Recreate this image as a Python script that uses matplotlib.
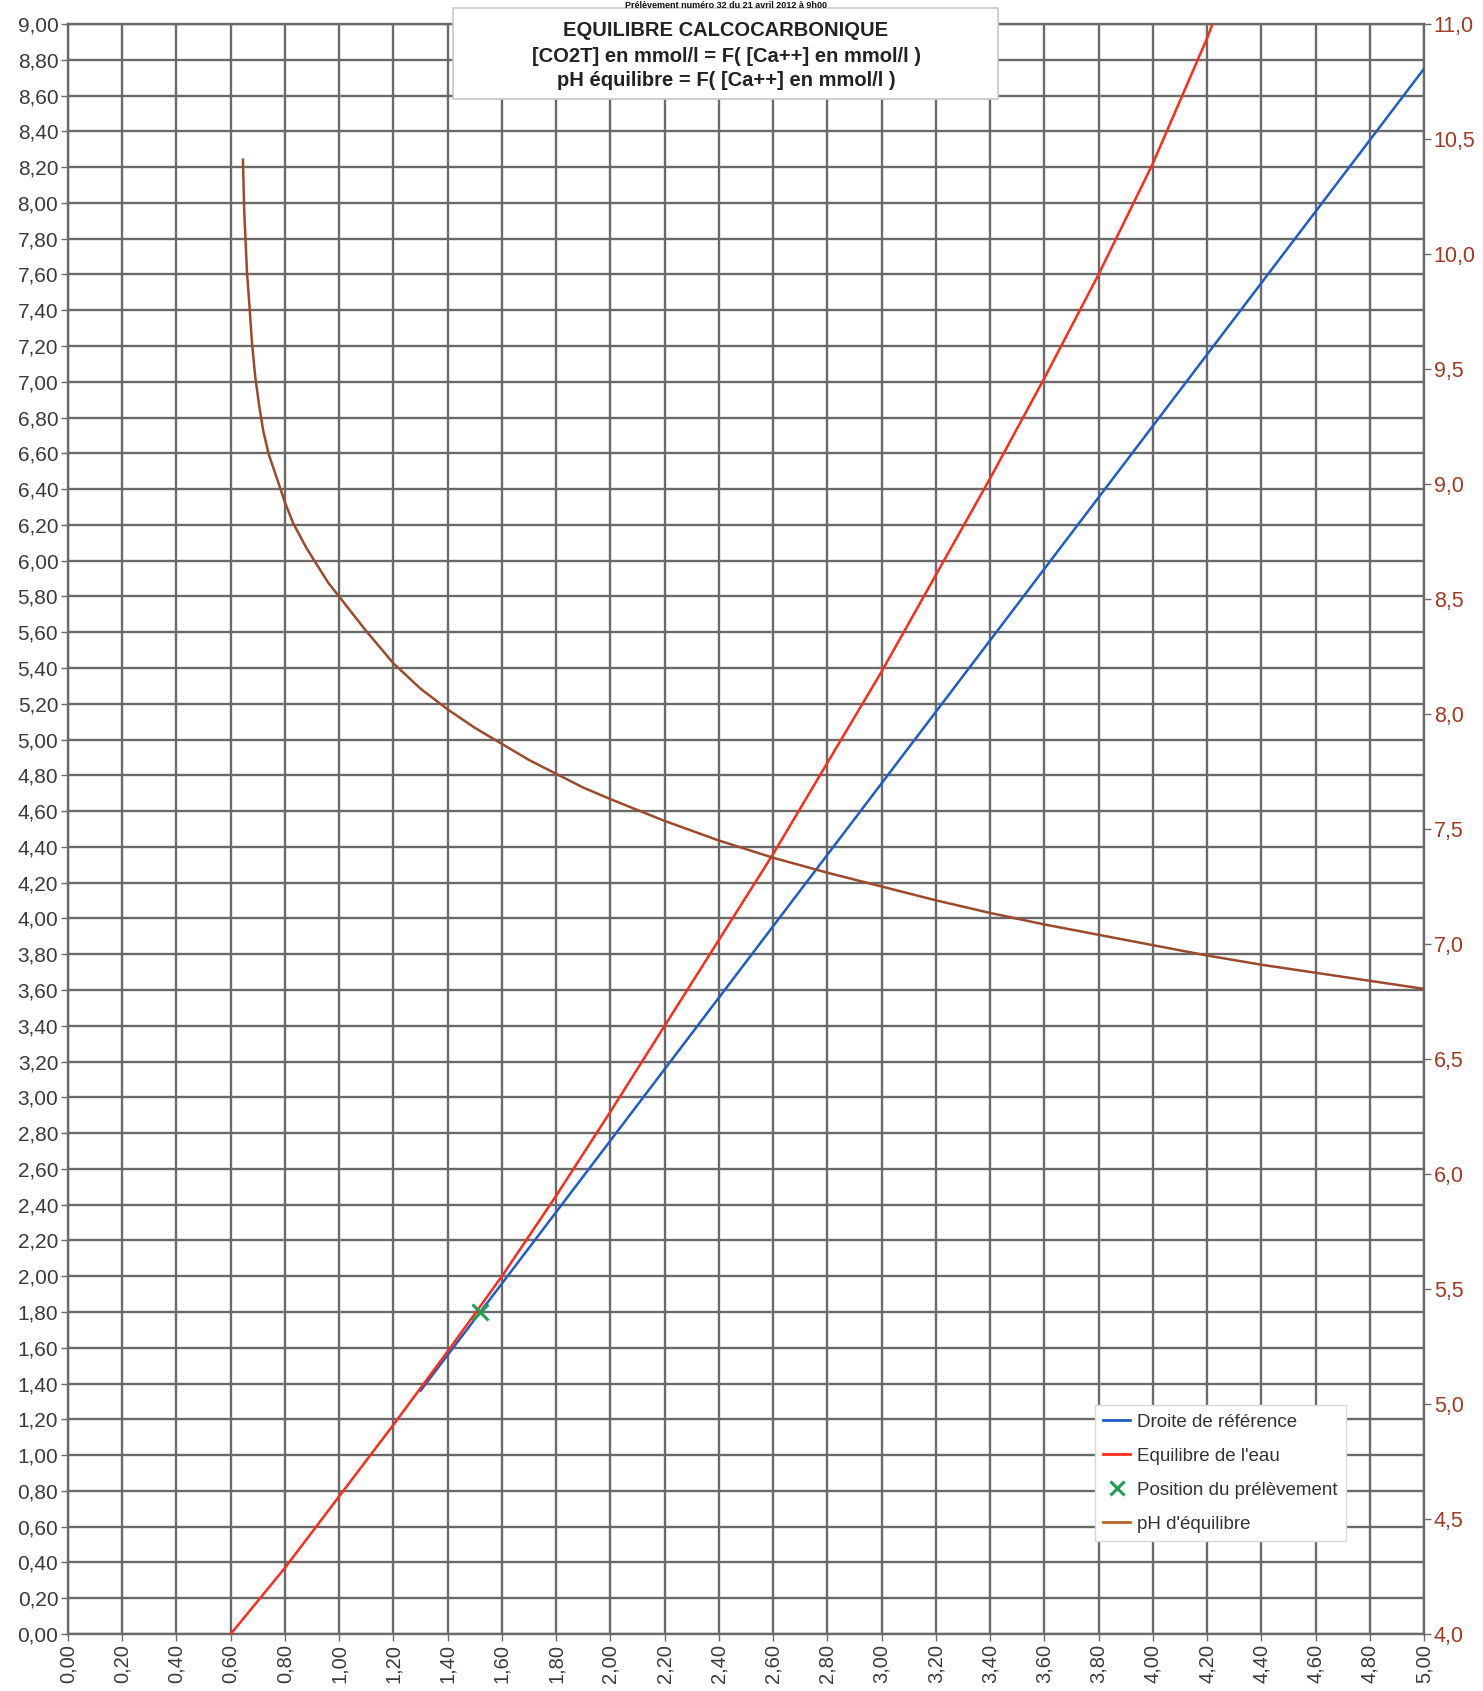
import matplotlib
matplotlib.use("Agg")
import matplotlib.pyplot as plt
import numpy as np
from matplotlib.patches import Rectangle
from matplotlib.lines import Line2D

plt.rcParams['font.family'] = ['Liberation Sans', 'DejaVu Sans']

# ---- data ----
ref_x = [1.30, 5.00]
ref_y = [1.36, 8.75]

eq_x = [0.60, 0.80, 1.00, 1.20, 1.40, 1.60, 1.80, 2.00, 2.20, 2.40, 2.60, 2.80,
        3.00, 3.20, 3.40, 3.60, 3.80, 4.00, 4.20, 4.22]
eq_y = [0.00, 0.37, 0.77, 1.17, 1.58, 2.00, 2.45, 2.92, 3.40, 3.88, 4.36, 4.87,
        5.38, 5.92, 6.46, 7.02, 7.60, 8.22, 8.92, 9.00]

sample_x = [1.52]
sample_y = [1.80]

ph_x = [0.645, 0.650, 0.660, 0.670, 0.678, 0.690, 0.705, 0.720, 0.740, 0.763,
        0.800, 0.830, 0.880, 0.960, 1.00, 1.10, 1.20, 1.30, 1.40, 1.50, 1.60,
        1.70, 1.80, 1.90, 2.00, 2.20, 2.40, 2.60, 2.80, 3.00, 3.20, 3.40, 3.60,
        3.80, 4.00, 4.20, 4.40, 4.60, 4.80, 5.00]
ph_y = [10.41, 10.18, 9.92, 9.76, 9.62, 9.47, 9.34, 9.23, 9.13, 9.05,
        8.92, 8.83, 8.72, 8.57, 8.51, 8.36, 8.22, 8.11, 8.02, 7.94, 7.87,
        7.80, 7.74, 7.68, 7.63, 7.535, 7.45, 7.375, 7.31, 7.25, 7.19, 7.135, 7.085,
        7.04, 6.995, 6.95, 6.91, 6.875, 6.84, 6.805]

x_ticks = np.round(np.arange(0, 5.0001, 0.2), 2)
y_ticks = np.round(np.arange(0, 9.0001, 0.2), 2)
ph_ticks = np.round(np.arange(4.0, 11.0001, 0.5), 1)

top_text = "Prélèvement numéro 32 du 21 avril 2012 à 9h00"
title_lines = ["EQUILIBRE CALCOCARBONIQUE",
               "[CO2T] en mmol/l = F( [Ca++] en mmol/l )",
               "pH équilibre = F( [Ca++] en mmol/l )"]
legend_labels = ["Droite de référence", "Equilibre de l'eau",
                 "Position du prélèvement", "pH d'équilibre"]

# ---- figure ----
W, H = 1483, 1691
fig = plt.figure(figsize=(W / 100, H / 100), dpi=100)
L, R, T, B = 68, 1424, 24, 1634
ax = fig.add_axes([L / W, 1 - B / H, (R - L) / W, (B - T) / H])

grid_c = '#6a6a6a'
lab_c = '#3a3a3a'
ax.set_xlim(0, 5)
ax.set_ylim(0, 9)
ax.set_xticks(x_ticks)
ax.set_yticks(y_ticks)
ax.set_xticklabels([f"{v:.2f}".replace('.', ',') for v in x_ticks], rotation=90,
                   fontsize=14.5, color=lab_c)
ax.set_yticklabels([f"{v:.2f}".replace('.', ',') for v in y_ticks],
                   fontsize=15, color=lab_c)
ax.grid(True, color=grid_c, linewidth=1.7, zorder=0)
ax.set_axisbelow(True)
ax.tick_params(axis='both', length=5, width=1, color=grid_c, pad=2)
for s in ax.spines.values():
    s.set_color(grid_c)
    s.set_linewidth(1.7)

blue_c = '#1f5cc8'
red_c = '#ff2a1a'
green_c = '#1f9e55'
brown_c = '#9c4a2c'

ax.plot(ref_x, ref_y, color=blue_c, linewidth=1.8, zorder=3)
ax.plot(eq_x, eq_y, color=red_c, linewidth=1.8, zorder=4)
ax.plot(sample_x, sample_y, linestyle='none', marker='x', color=green_c,
        markersize=11, markeredgewidth=2.2, zorder=6)

ax2 = ax.twinx()
ax2.set_ylim(4, 11)
ax2.set_yticks(ph_ticks)
ax2.set_yticklabels([f"{v:.1f}".replace('.', ',') for v in ph_ticks],
                    fontsize=15.5, color='#a03a22')
ax2.tick_params(axis='y', length=5, width=1, color=grid_c, pad=2)
for s in ax2.spines.values():
    s.set_visible(False)
ax2.plot(ph_x, ph_y, color=brown_c, linewidth=1.8, zorder=5)

handles = [Line2D([], [], color=blue_c, linewidth=2),
           Line2D([], [], color=red_c, linewidth=2),
           Line2D([], [], color=green_c, linestyle='none', marker='x',
                  markersize=10, markeredgewidth=2.2),
           Line2D([], [], color='#b5652a', linewidth=2)]
leg = ax2.legend(handles, legend_labels, loc='upper left',
                 bbox_to_anchor=(1095 / W, 1 - 1405 / H),
                 bbox_transform=fig.transFigure, fontsize=13.5, frameon=True,
                 fancybox=False, edgecolor='#d8d8d8', framealpha=1,
                 handlelength=1.4, labelspacing=0.9, borderpad=0.45,
                 handletextpad=0.4, borderaxespad=0)
leg.get_frame().set_linewidth(1.0)
for t in leg.get_texts():
    t.set_color('#333333')

# title box
bx0, by0, bx1, by1 = 453, 8, 998, 99
fig.patches.append(Rectangle((bx0 / W, 1 - by1 / H), (bx1 - bx0) / W, (by1 - by0) / H,
                             transform=fig.transFigure, facecolor='white',
                             edgecolor='#c8c8c8', linewidth=1.2, zorder=10))
# small sub-title line at the very top
fig.text(726 / W, 1 - 1 / H, top_text, ha='center', va='top', fontsize=6.5,
         fontweight='bold', color='#111111', zorder=12)
for line, yc in zip(title_lines, [31, 56, 81]):
    fig.text(726 / W, 1 - yc / H, line, ha='center', va='center', fontsize=14.5,
             fontweight='bold', color='#222222', zorder=11)

fig.savefig('out.png', dpi=100, facecolor='white')
